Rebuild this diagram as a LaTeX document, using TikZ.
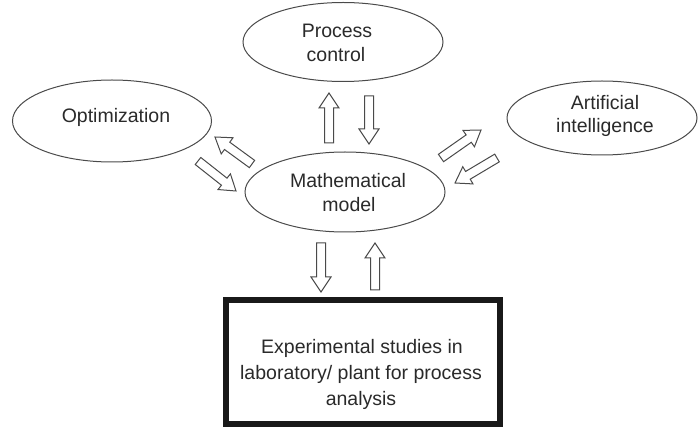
\documentclass[tikz,border=0pt]{standalone}
\usepackage{fontspec}
\setmainfont{Liberation Sans}
\usetikzlibrary{calc,shapes.geometric}
\definecolor{lineg}{HTML}{4A4A4A}
\definecolor{txtg}{HTML}{2A2A2A}
\tikzset{
  ell/.style={ellipse, draw=lineg, line width=1pt, inner sep=0pt},
  lbl/.style={anchor=base, text=txtg, inner sep=0pt, font=\fontsize{19.5}{23}\selectfont},
  bigbox/.style={rectangle, draw=black!90, line width=6pt, inner sep=0pt},
  barrow/.style={draw=lineg, line width=1pt, fill=white, line join=miter},
}
\newcommand\blockarr[2]{%
  \draw[barrow] let \p1=(#1), \p2=(#2),
    \n1={atan2(\y2-\y1,\x2-\x1)}, \n2={veclen(\x2-\x1,\y2-\y1)} in
    ($(\p1)+(\n1+90:4.5pt)$)
    -- ($(\p1)+(\n1:\n2-15pt)+(\n1+90:4.5pt)$)
    -- ($(\p1)+(\n1:\n2-15pt)+(\n1+90:10pt)$)
    -- (\p2)
    -- ($(\p1)+(\n1:\n2-15pt)+(\n1-90:10pt)$)
    -- ($(\p1)+(\n1:\n2-15pt)+(\n1-90:4.5pt)$)
    -- ($(\p1)+(\n1-90:4.5pt)$) -- cycle;}
\begin{document}
\begin{tikzpicture}[x=1pt,y=-1pt]
\useasboundingbox (0,0) rectangle (698,427);
% shapes
\node[ell, minimum width=200pt, minimum height=79pt] (pc) at (343,42) {};
\node[ell, minimum width=199pt, minimum height=82pt] (opt) at (112,121) {};
\node[ell, minimum width=190pt, minimum height=74pt] (ai) at (602,118) {};
\node[ell, minimum width=200pt, minimum height=80pt] (mm) at (345,192) {};
\node[bigbox, minimum width=274pt, minimum height=124pt] (exp) at (363,362) {};
% labels
\node[lbl] (pct1) at (337,38) {Process};
\node[lbl] (pct2) at (336,62) {control};
\node[lbl] (optt) at (116,123) {Optimization};
\node[lbl] (ait1) at (605,110) {Artificial};
\node[lbl] (ait2) at (605,133) {intelligence};
\node[lbl] (mmt1) at (348,188) {Mathematical};
\node[lbl] (mmt2) at (349,212) {model};
\node[lbl] (ext1) at (362,353) {Experimental studies in};
\node[lbl] (ext2) at (361,379) {laboratory/ plant for process};
\node[lbl] (ext3) at (361,405) {analysis};
% arrow end points
\coordinate (pcUpT) at (329,143); \coordinate (pcUpH) at (329,93);
\coordinate (pcDnT) at (369,96);  \coordinate (pcDnH) at (369,144);
\coordinate (opUpT) at (252,164); \coordinate (opUpH) at (215,137);
\coordinate (opDnT) at (198,161); \coordinate (opDnH) at (236,191);
\coordinate (aiUpT) at (441,158); \coordinate (aiUpH) at (481,130);
\coordinate (aiDnT) at (497,158); \coordinate (aiDnH) at (455,183);
\coordinate (exDnT) at (321,243); \coordinate (exDnH) at (321,292);
\coordinate (exUpT) at (375,290); \coordinate (exUpH) at (375,243);
% block arrows
\blockarr{pcUpT}{pcUpH}
\blockarr{pcDnT}{pcDnH}
\blockarr{opUpT}{opUpH}
\blockarr{opDnT}{opDnH}
\blockarr{aiUpT}{aiUpH}
\blockarr{aiDnT}{aiDnH}
\blockarr{exDnT}{exDnH}
\blockarr{exUpT}{exUpH}
\end{tikzpicture}
\end{document}
